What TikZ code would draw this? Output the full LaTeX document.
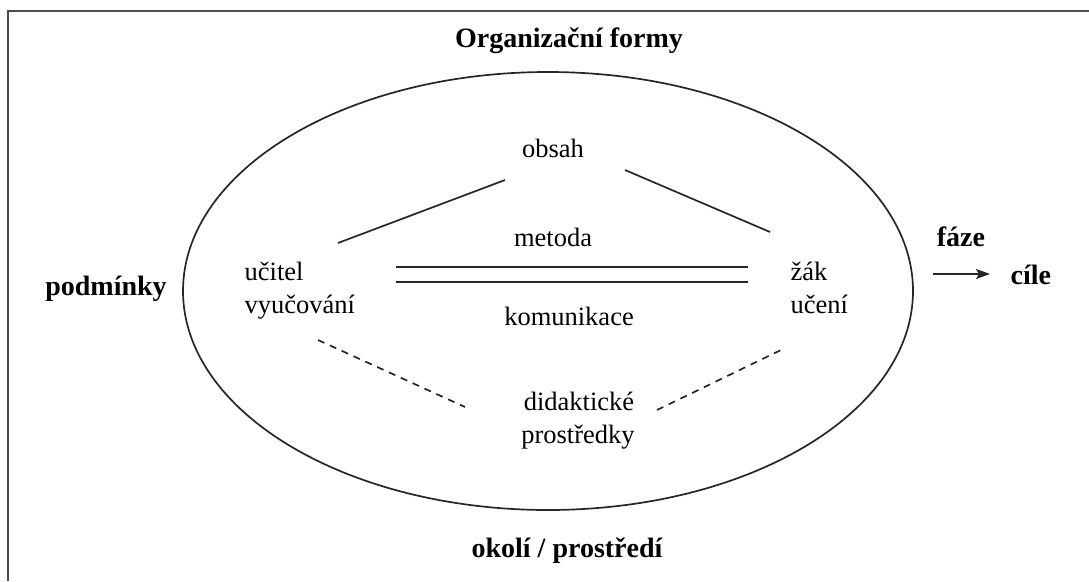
\documentclass[tikz,border=0pt]{standalone}
\usepackage{fontspec}
\setmainfont{Liberation Serif}
\usetikzlibrary{positioning,arrows.meta}

\begin{document}
\begin{tikzpicture}[
  x=1pt, y=-1pt,
  >={Stealth[length=14pt,width=10pt,inset=3pt]},
  line width=1.4pt,
  txt/.style={font=\fontsize{26.5}{34}\selectfont, inner sep=0pt, anchor=base},
  txt_l/.style={txt, anchor=base west},
  bold_txt/.style={font=\fontsize{28}{34}\selectfont\bfseries, inner sep=0pt, anchor=base},
  frame/.style={draw=black!70, line width=2.2pt},
  link/.style={draw=black!85, line width=1.7pt},
  dashlink/.style={link, dash pattern=on 7pt off 6pt}
]

\useasboundingbox (0,0) rectangle (1089,581);

% --- Ramecek ---
\draw[frame] (8,581) -- (8,11) -- (1089,11);

% --- Elipsa ---
\draw[link] (548,291) ellipse [x radius=365, y radius=219];

% --- Popisky kolem ---
\node[bold_txt] (formy)   at (569,47)  {Organizační formy};
\node[bold_txt] (podm)    at (106,295) {podmínky};
\node[bold_txt] (faze)    at (961,246) {fáze};
\node[bold_txt, anchor=base west] (cile) at (1010,284) {cíle};
\node[bold_txt] (okoli)   at (567,557) {okolí / prostředí};

% --- Uvnitr elipsy ---
\node[txt] (obsah)  at (553,157) {obsah};
\node[txt] (metoda) at (553,246) {metoda};
\node[txt] (komun)  at (569,325) {komunikace};

\node[txt_l] (ucitel) at (244,280) {učitel};
\node[txt_l] (vyuc)   at (244,313) {vyučování};
\node[txt_l] (zak)    at (790,280) {žák};
\node[txt_l] (uceni)  at (790,313) {učení};

\node[txt] (didakt) at (579,410) {didaktické};
\node[txt] (prostr) at (578,443) {prostředky};

% --- Konce car ---
\coordinate (ob_l) at (505,180);
\coordinate (uc_t) at (338,243);
\coordinate (ob_r) at (625,170);
\coordinate (za_t) at (770,232);
\coordinate (uc_b) at (318,340);
\coordinate (di_l) at (465,407);
\coordinate (di_r) at (657,410);
\coordinate (za_b) at (781,350);
\coordinate (m_l)  at (396,267);
\coordinate (m_r)  at (748,267);
\coordinate (k_l)  at (396,282);
\coordinate (k_r)  at (748,282);
\coordinate (sip_a) at (933,274);
\coordinate (sip_b) at (990,274);

% --- Cary ---
\draw[link] (uc_t) -- (ob_l);
\draw[link] (ob_r) -- (za_t);
\draw[link] (m_l) -- (m_r);
\draw[link] (k_l) -- (k_r);
\draw[dashlink] (uc_b) -- (di_l);
\draw[dashlink] (di_r) -- (za_b);

% --- Sipka ---
\draw[link, ->] (sip_a) -- (sip_b);

\end{tikzpicture}
\end{document}
